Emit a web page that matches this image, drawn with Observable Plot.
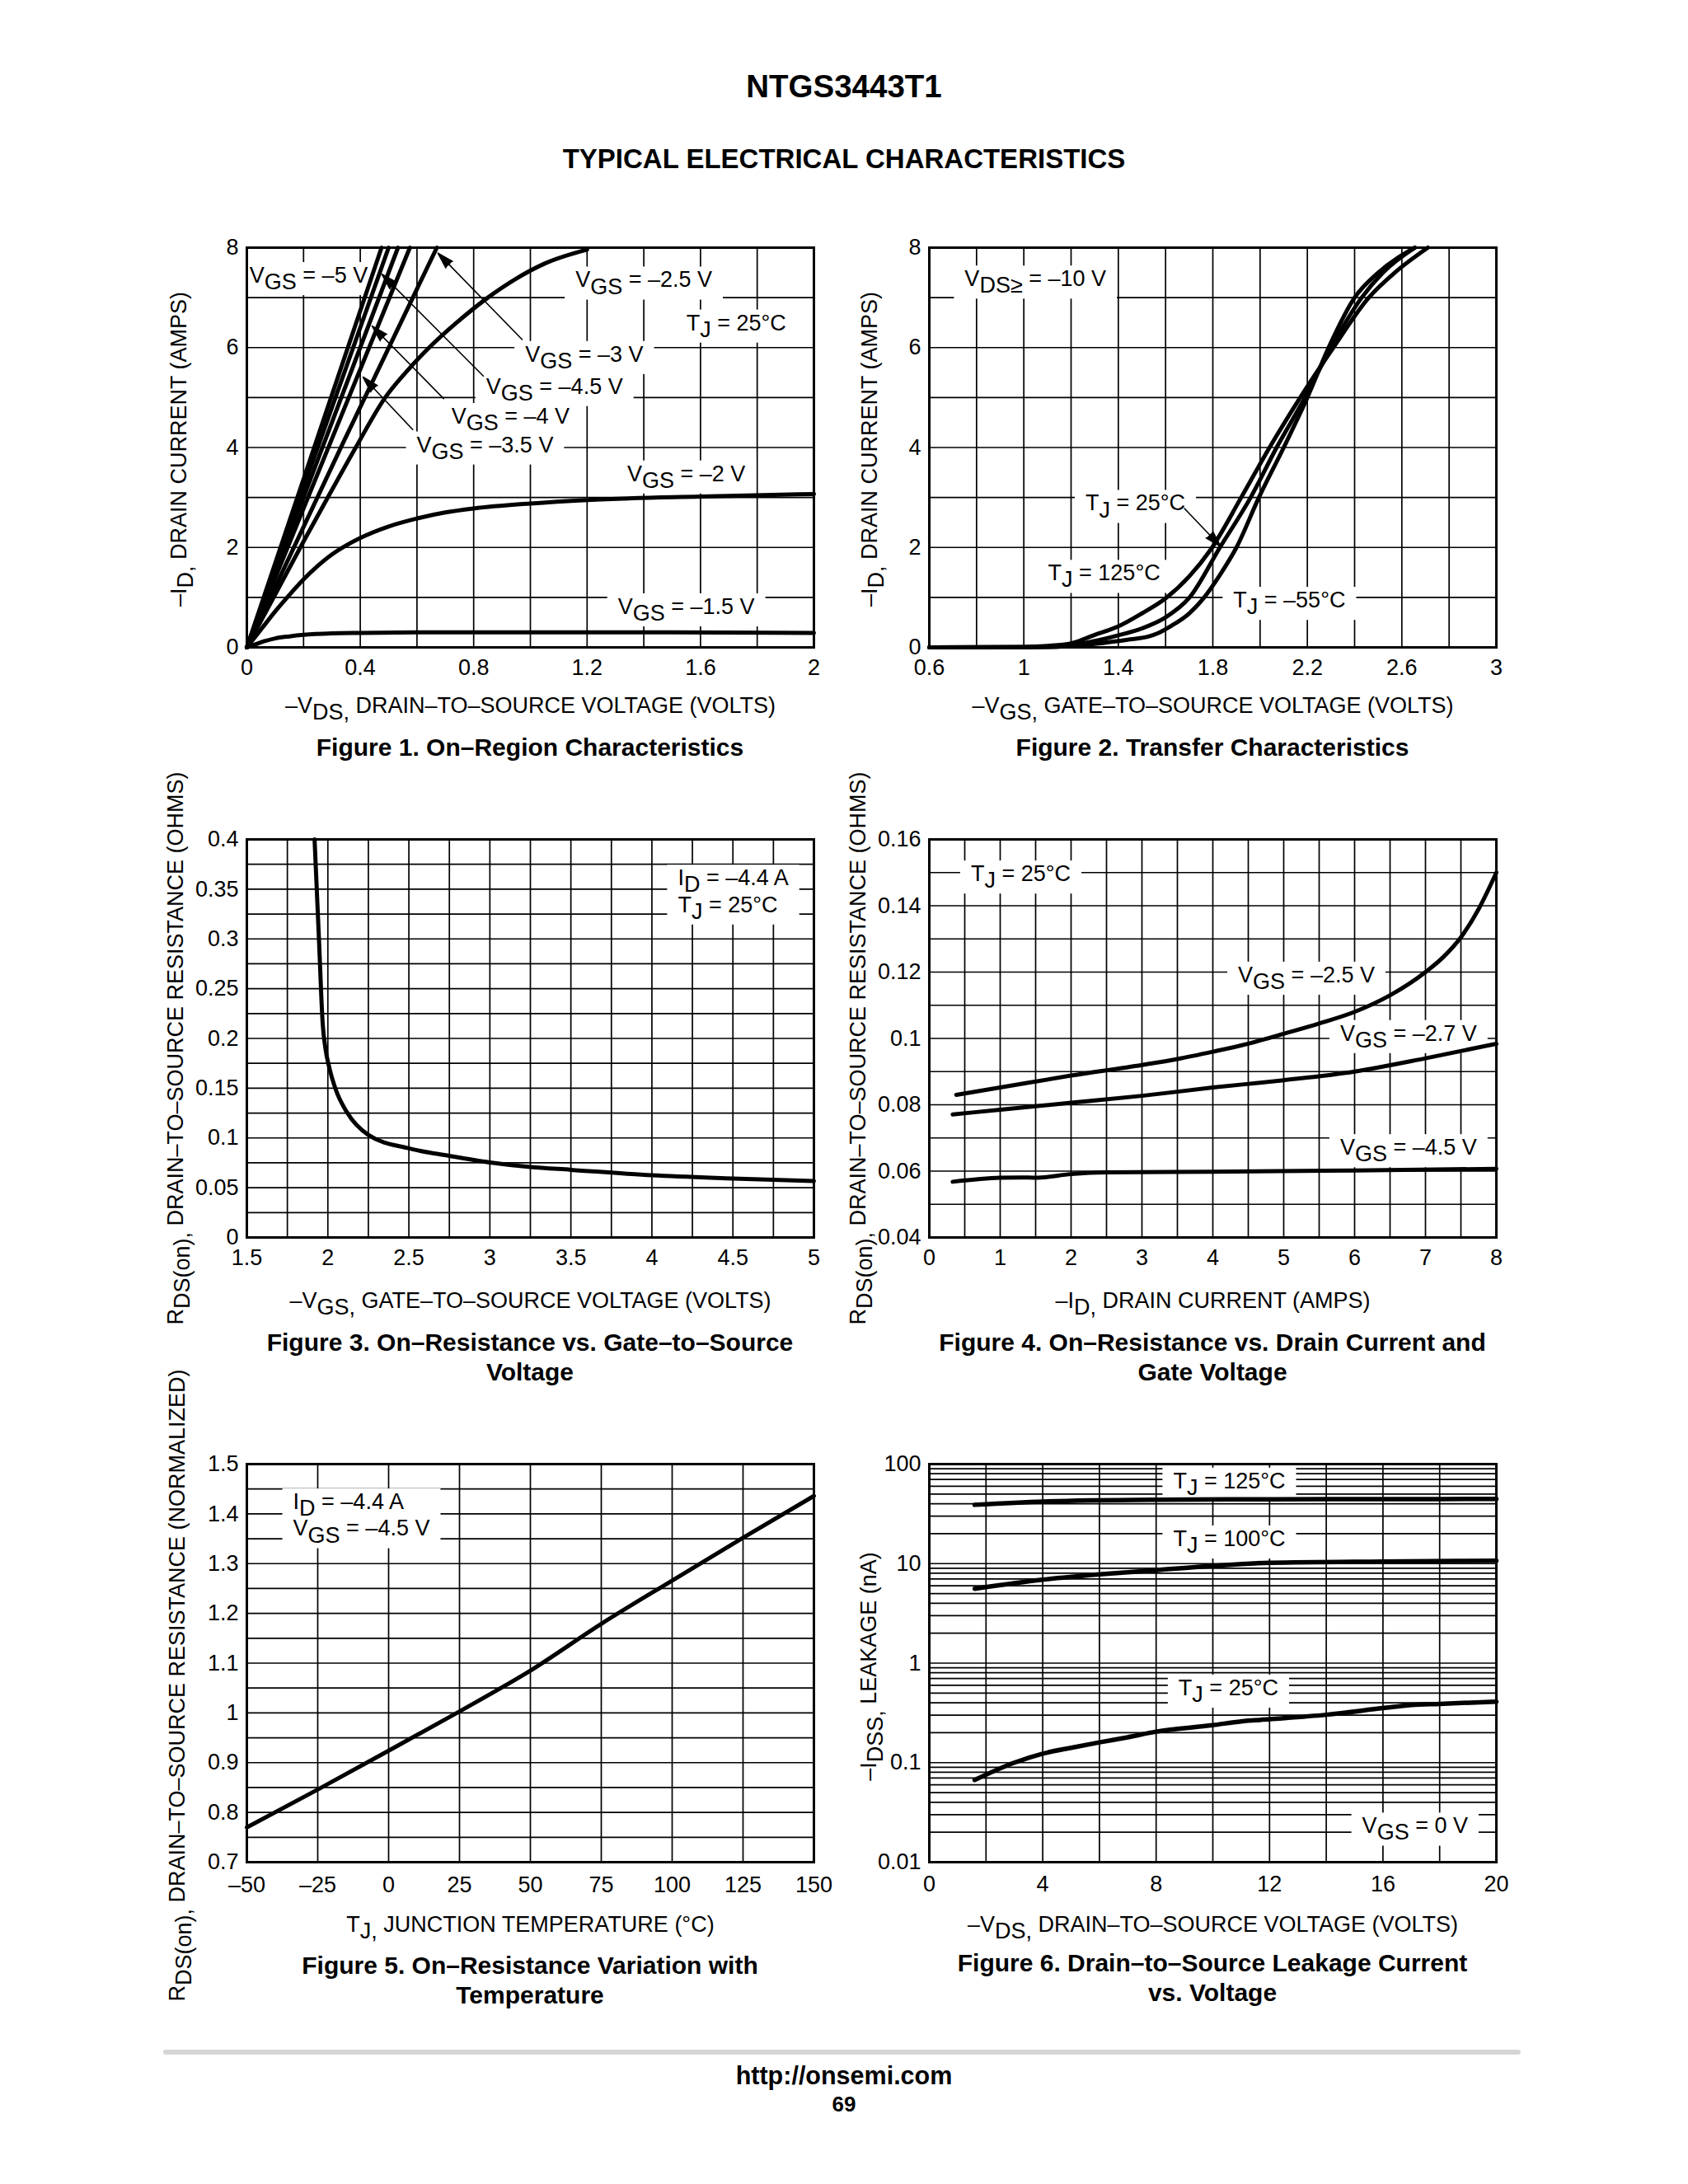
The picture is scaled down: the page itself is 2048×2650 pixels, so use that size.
<!DOCTYPE html>
<html>
<head>
<meta charset="utf-8">
<script src="https://cdn.jsdelivr.net/npm/d3@7"></script>
<script src="https://cdn.jsdelivr.net/npm/@observablehq/plot@0.6"></script>
<style>
  html, body { margin: 0; padding: 0; background: #fff; }
  #page { position: relative; width: 2048px; height: 2650px; overflow: hidden; background: #fff; color: #000;
          font-family: "Liberation Sans", Arial, Helvetica, sans-serif; }
  .abs { position: absolute; }
  .title { left: 0; width: 2048px; text-align: center; font-weight: bold; font-size: 38.5px; line-height: 46px; }
  .sub { left: 0; width: 2048px; text-align: center; font-weight: bold; font-size: 33px; line-height: 40px; }
  .cap { width: 800px; text-align: center; font-weight: bold; font-size: 30px; line-height: 36px; }
  .rule { left: 198px; width: 1647px; height: 6px; background: #d6d6d6; border-radius: 3px; }
</style>
</head>
<body>
<div id="page">
  <div class="abs title" style="top:82px">NTGS3443T1</div>
  <div class="abs sub" style="top:173px">TYPICAL ELECTRICAL CHARACTERISTICS</div>

  <div class="abs cap" style="left:243px;top:889px">Figure 1. On–Region Characteristics</div>
  <div class="abs cap" style="left:1071px;top:889px">Figure 2. Transfer Characteristics</div>
  <div class="abs cap" style="left:243px;top:1611px">Figure 3. On–Resistance vs. Gate–to–Source<br>Voltage</div>
  <div class="abs cap" style="left:1071px;top:1611px">Figure 4. On–Resistance vs. Drain Current and<br>Gate Voltage</div>
  <div class="abs cap" style="left:243px;top:2367px">Figure 5. On–Resistance Variation with<br>Temperature</div>
  <div class="abs cap" style="left:1071px;top:2364px">Figure 6. Drain–to–Source Leakage Current<br>vs. Voltage</div>

  <div class="abs rule" style="top:2487px"></div>
  <div class="abs" style="left:0;width:2048px;text-align:center;top:2500px;font-weight:bold;font-size:30.5px;line-height:36px">http://onsemi.com</div>
  <div class="abs" style="left:0;width:2048px;text-align:center;top:2538px;font-weight:bold;font-size:26px;line-height:30px">69</div>
</div>
<script>
// ---------------- Figure 1: On-region characteristics (-VDS V, -ID A) ----------------
const f1_vgs_5   = [[0,0],[0.475,8]];
const f1_vgs_4_5 = [[0,0],[0.5,8]];
const f1_vgs_4   = [[0,0],[0.533,8]];
const f1_vgs_3_5 = [[0,0],[0.575,8]];
const f1_vgs_3   = [[0,0],[0.34,4.1],[0.67,8]];
const f1_vgs_2_5 = [[0,0],[0.1,1.06],[0.2,2.12],[0.3,3.15],[0.384,4.0],[0.488,5.0],[0.56,5.5],[0.643,6.0],[0.74,6.5],[0.85,7.0],[0.95,7.38],[1.05,7.68],[1.2,7.96]];
const f1_vgs_2   = [[0,0],[0.05,0.36],[0.1,0.72],[0.15,1.05],[0.2,1.36],[0.25,1.63],[0.3,1.86],[0.35,2.04],[0.4,2.19],[0.5,2.42],[0.6,2.58],[0.7,2.70],[0.8,2.78],[1.0,2.88],[1.2,2.95],[1.6,3.02],[2.0,3.07]];
const f1_vgs_1_5 = [[0,0],[0.03,0.06],[0.06,0.12],[0.1,0.18],[0.15,0.22],[0.2,0.25],[0.3,0.28],[0.4,0.29],[0.6,0.3],[1.0,0.3],[1.5,0.3],[2.0,0.29]];
const f1_ticksX = [0,0.4,0.8,1.2,1.6,2];
const f1_ticksY = [0,2,4,6,8];
const f1_notes = [
  {t:"V_{GS} = –5 V", x:0.218, y:7.47}, {t:"V_{GS} = –2.5 V", x:1.40, y:7.38},
  {t:"T_{J} = 25°C", x:1.726, y:6.52}, {t:"V_{GS} = –3 V", x:1.19, y:5.89},
  {t:"V_{GS} = –4.5 V", x:1.085, y:5.25}, {t:"V_{GS} = –4 V", x:0.93, y:4.65},
  {t:"V_{GS} = –3.5 V", x:0.84, y:4.08}, {t:"V_{GS} = –2 V", x:1.55, y:3.50},
  {t:"V_{GS} = –1.5 V", x:1.55, y:0.84}
];
const f1_arrows = [
  {x1:0.971,y1:6.16,x2:0.674,y2:7.89}, {x1:0.834,y1:5.43,x2:0.476,y2:7.47},
  {x1:0.694,y1:4.98,x2:0.442,y2:6.43}, {x1:0.585,y1:4.36,x2:0.41,y2:5.41}
];

// ---------------- Figure 2: Transfer characteristics (-VGS V, -ID A) ----------------
const f2_tj125 = [[0.6,0],[1.0,0.01],[1.1,0.03],[1.2,0.08],[1.3,0.25],[1.4,0.42],[1.5,0.68],[1.6,0.98],[1.7,1.42],[1.79,1.95],[1.92,3.0],[2.04,4.0],[2.17,5.0],[2.31,6.0],[2.46,7.0],[2.57,7.5],[2.71,8.0]];
const f2_tj25  = [[0.6,0],[1.0,0.005],[1.2,0.05],[1.4,0.24],[1.5,0.38],[1.6,0.6],[1.7,0.99],[1.83,2.0],[1.96,3.0],[2.07,4.0],[2.19,5.0],[2.30,6.0],[2.43,7.0],[2.52,7.5],[2.655,8.0]];
const f2_tjm55 = [[0.6,0],[1.1,0.005],[1.3,0.07],[1.45,0.16],[1.53,0.22],[1.566,0.28],[1.62,0.42],[1.7,0.68],[1.76,0.98],[1.83,1.45],[1.9,2.0],[1.995,3.0],[2.10,4.0],[2.20,5.0],[2.29,6.0],[2.40,7.0],[2.50,7.5],[2.655,8.0]];
const f2_ticksX = [0.6,1,1.4,1.8,2.2,2.6,3];
const f2_ticksY = [0,2,4,6,8];
const f2_notes = [
  {t:"V_{DS≥} = –10 V", x:1.049, y:7.4}, {t:"T_{J} = 25°C", x:1.472, y:2.91},
  {t:"T_{J} = 125°C", x:1.34, y:1.51}, {t:"T_{J} = –55°C", x:2.124, y:0.97}
];
const f2_arrows = [{x1:1.68,y1:2.78,x2:1.833,y2:2.02}];

// ---------------- Figure 3: RDS(on) vs VGS ----------------
const f3_rds = [[1.918,0.4],[1.945,0.3],[1.968,0.215],[1.985,0.19],[2.01,0.17],[2.05,0.148],[2.117,0.126],[2.25,0.103],[2.5,0.0895],[2.75,0.082],[3.0,0.0754],[3.25,0.0708],[3.5,0.068],[4.0,0.0625],[4.5,0.0593],[5.0,0.0567]];
const f3_ticksX = [1.5,2,2.5,3,3.5,4,4.5,5];
const f3_ticksY = [0,0.05,0.1,0.15,0.2,0.25,0.3,0.35,0.4];
const f3_notes = [{t:"I_{D} = –4.4 A\nT_{J} = 25°C", x:4.16, y:0.349}];

// ---------------- Figure 4: RDS(on) vs ID ----------------
const f4_vgs_2_5 = [[0.38,0.083],[1,0.0852],[2,0.0888],[3,0.092],[3.5,0.0938],[4,0.096],[4.5,0.0984],[5,0.1014],[5.5,0.1045],[6,0.108],[6.5,0.113],[7,0.12],[7.25,0.1245],[7.5,0.1305],[7.75,0.139],[8,0.15]];
const f4_vgs_2_7 = [[0.33,0.0771],[1,0.0785],[2,0.0806],[3,0.0827],[4,0.0852],[5,0.0874],[6,0.09],[7,0.094],[8,0.0984]];
const f4_vgs_4_5 = [[0.33,0.0568],[1,0.058],[1.3,0.0581],[1.5,0.058],[2,0.0591],[2.5,0.0596],[4,0.0598],[6,0.0602],[8,0.0607]];
const f4_ticksX = [0,1,2,3,4,5,6,7,8];
const f4_ticksY = [0.04,0.06,0.08,0.1,0.12,0.14,0.16];
const f4_notes = [
  {t:"T_{J} = 25°C", x:1.29, y:0.150}, {t:"V_{GS} = –2.5 V", x:5.32, y:0.1195},
  {t:"V_{GS} = –2.7 V", x:6.76, y:0.1019}, {t:"V_{GS} = –4.5 V", x:6.76, y:0.0675}
];

// ---------------- Figure 5: RDS(on) normalized vs TJ ----------------
const f5_rds = [[-50,0.770],[-25,0.846],[0,0.924],[25,1.003],[50,1.085],[75,1.179],[100,1.266],[125,1.352],[150,1.436]];
const f5_ticksX = [-50,-25,0,25,50,75,100,125,150];
const f5_ticksY = [0.7,0.8,0.9,1,1.1,1.2,1.3,1.4,1.5];
const f5_notes = [{t:"I_{D} = –4.4 A\nV_{GS} = –4.5 V", x:-33.7, y:1.40}];

// ---------------- Figure 6: IDSS leakage vs VDS ----------------
const f6_tj125 = [[1.6,39],[4,42],[8,43.8],[12,44.3],[16,44.5],[20,44.6]];
const f6_tj100 = [[1.6,5.6],[4,6.9],[6,7.8],[8,8.6],[10,9.5],[12,10.2],[16,10.5],[20,10.7]];
const f6_tj25  = [[1.6,0.067],[3,0.1],[4,0.123],[5,0.141],[6,0.16],[7,0.18],[8,0.205],[10,0.238],[11,0.26],[12,0.273],[14,0.303],[16,0.353],[17,0.38],[18,0.39],[20,0.41]];
const f6_ticksX = [0,4,8,12,16,20];
const f6_ticksY = [0.01,0.1,1,10,100];
const f6_notes = [
  {t:"T_{J} = 125°C", x:10.58, y:69.7}, {t:"T_{J} = 100°C", x:10.58, y:18.3},
  {t:"T_{J} = 25°C", x:10.55, y:0.58}, {t:"V_{GS} = 0 V", x:17.13, y:0.0238}
];

// ---------------- helpers ----------------
const NS = "http://www.w3.org/2000/svg";
const page = document.getElementById("page");
const ML = 130, MR = 40, MT = 20, MB = 110;
const fmt = d => d < 0 ? "–" + (-d) : String(d);
const rows = (arr, s) => arr.map(([x, y]) => ({x, y, s}));
const step = (a, b, s) => d3.range(0, Math.round((b - a) / s) + 1).map(i => +(a + i * s).toFixed(6));
const logGrid = [0.01,0.1,1,10].flatMap(d => d3.range(1, 10).map(k => +(d * k).toPrecision(3))).concat([100]);

function subs(svg) {
  svg.querySelectorAll("text, tspan").forEach(el => {
    Array.from(el.childNodes).forEach(n => {
      if (n.nodeType !== 3 || !n.nodeValue.includes("_{")) return;
      const parts = n.nodeValue.split(/_\{([^}]*)\}/);
      const frag = document.createDocumentFragment();
      parts.forEach((p, i) => {
        if (i === 0) { if (p) frag.appendChild(document.createTextNode(p)); return; }
        const t = document.createElementNS(NS, "tspan");
        if (i % 2 === 1) { t.setAttribute("dy", "0.3em"); t.textContent = p; }
        else { t.setAttribute("dy", "-0.3em"); t.textContent = p || "\u200b"; }
        frag.appendChild(t);
      });
      el.replaceChild(frag, n);
    });
  });
}

function boxes(svg, padX = 13, padY = 1) {
  const texts = svg.querySelectorAll('text[aria-label="boxed"], g[aria-label="boxed"] text, g.boxed text');
  if (!texts.length) return;
  const g = document.createElementNS(NS, "g");
  const firstLine = svg.querySelector('g[aria-label="line"]');
  svg.insertBefore(g, firstLine);
  const inv = svg.getScreenCTM().inverse();
  texts.forEach(t => {
    const b = t.getBBox();
    const m = inv.multiply(t.getScreenCTM());
    const pts = [[b.x, b.y], [b.x + b.width, b.y], [b.x, b.y + b.height], [b.x + b.width, b.y + b.height]].map(([x, y]) => {
      const p = svg.createSVGPoint(); p.x = x; p.y = y; return p.matrixTransform(m);
    });
    const x0 = Math.min(...pts.map(p => p.x)), x1 = Math.max(...pts.map(p => p.x));
    const y0 = Math.min(...pts.map(p => p.y)), y1 = Math.max(...pts.map(p => p.y));
    const r = document.createElementNS(NS, "rect");
    r.setAttribute("x", x0 - padX); r.setAttribute("y", y0 - padY);
    r.setAttribute("width", x1 - x0 + 2 * padX); r.setAttribute("height", y1 - y0 + 2 * padY);
    r.setAttribute("fill", "#fff");
    g.appendChild(r);
  });
}

// fill the arrowheads (the head sub-path closes into a triangle when filled)
function fillHeads(svg) {
  svg.querySelectorAll('g[aria-label="arrow"] path').forEach(p => {
    p.setAttribute("fill", "#000");
    p.setAttribute("stroke-linejoin", "miter");
  });
}

function figure(cfg) {
  const W = cfg.R - cfg.L, H = cfg.B - cfg.T;
  const notes = (cfg.notes || []).map(n => Plot.text(n.data, {
    x: "x", y: "y", text: "t", textAnchor: n.anchor || "middle", lineAnchor: "middle",
    lineHeight: 1.2, fill: "#000", ariaLabel: "boxed", className: "boxed"
  }));
  const marks = [
    Plot.gridX(cfg.gridX, {stroke: "#000", strokeOpacity: 1, strokeWidth: 1.7}),
    Plot.gridY(cfg.gridY, {stroke: "#000", strokeOpacity: 1, strokeWidth: 1.7}),
    Plot.line(cfg.lines, {x: "x", y: "y", z: "s", stroke: "#000", strokeWidth: cfg.lw || 5, curve: "monotone-x"}),
    ...(cfg.arrows ? [Plot.arrow(cfg.arrows, {x1: "x1", y1: "y1", x2: "x2", y2: "y2", stroke: "#000", strokeWidth: 1.6, headLength: 19, headAngle: 32})] : []),
    ...notes,
    Plot.frame({stroke: "#000", strokeWidth: 3}),
    Plot.axisX(cfg.ticksX, {tickSize: 0, tickPadding: cfg.tp || 14, tickFormat: fmt, label: null}),
    Plot.axisY(cfg.ticksY, {tickSize: 0, tickPadding: 10, tickFormat: fmt, label: null}),
    Plot.text([cfg.xLabel], {frameAnchor: "bottom", dy: cfg.xDy, textAnchor: "middle", lineAnchor: "middle", text: d => d, fill: "#000"}),
    Plot.text([cfg.yLabel], {frameAnchor: "left", dx: cfg.yDx, dy: cfg.yDy || 0, rotate: -90, textAnchor: "middle", lineAnchor: "middle", text: d => d, fill: "#000"})
  ];
  const svg = Plot.plot({
    width: W + ML + MR, height: H + MT + MB,
    marginLeft: ML, marginRight: MR, marginTop: MT, marginBottom: MB,
    x: {...cfg.x, label: null}, y: {...cfg.y, label: null},
    style: {fontFamily: '"Liberation Sans", Arial, Helvetica, sans-serif', fontSize: "27px", color: "#000", background: "transparent", overflow: "visible"},
    marks
  });
  const div = document.createElement("div");
  div.style.cssText = `position:absolute;left:${cfg.L - ML}px;top:${cfg.T - MT}px;`;
  div.appendChild(svg);
  page.appendChild(div);
  subs(svg);
  boxes(svg);
  fillHeads(svg);
}

const LEFT = {L: 299, R: 987}, RIGHT = {L: 1127, R: 1815};
const ROW1 = {T: 300, B: 785}, ROW2 = {T: 1018, B: 1501}, ROW3 = {T: 1776, B: 2259};

figure({...LEFT, ...ROW1,
  x: {domain: [0, 2]}, y: {domain: [0, 8]},
  gridX: step(0, 2, 0.2), gridY: step(0, 8, 1), ticksX: f1_ticksX, ticksY: f1_ticksY,
  lines: [...rows(f1_vgs_5, "-5"), ...rows(f1_vgs_4_5, "-4.5"), ...rows(f1_vgs_4, "-4"), ...rows(f1_vgs_3_5, "-3.5"),
          ...rows(f1_vgs_3, "-3"), ...rows(f1_vgs_2_5, "-2.5"), ...rows(f1_vgs_2, "-2"), ...rows(f1_vgs_1_5, "-1.5")],
  arrows: f1_arrows, notes: [{data: f1_notes}],
  xLabel: "–V_{DS,} DRAIN–TO–SOURCE VOLTAGE (VOLTS)", xDy: 71,
  yLabel: "–I_{D,} DRAIN CURRENT (AMPS)", yDx: -82, yDy: 2
});

figure({...RIGHT, ...ROW1,
  x: {domain: [0.6, 3]}, y: {domain: [0, 8]},
  gridX: step(0.6, 3, 0.2), gridY: step(0, 8, 1), ticksX: f2_ticksX, ticksY: f2_ticksY,
  lines: [...rows(f2_tj125, "125"), ...rows(f2_tj25, "25"), ...rows(f2_tjm55, "-55")],
  arrows: f2_arrows, notes: [{data: f2_notes}],
  xLabel: "–V_{GS,} GATE–TO–SOURCE VOLTAGE (VOLTS)", xDy: 71,
  yLabel: "–I_{D,} DRAIN CURRENT (AMPS)", yDx: -72, yDy: 2
});

figure({...LEFT, ...ROW2,
  x: {domain: [1.5, 5]}, y: {domain: [0, 0.4]},
  gridX: step(1.5, 5, 0.25), gridY: step(0, 0.4, 0.025), ticksX: f3_ticksX, ticksY: f3_ticksY,
  lines: rows(f3_rds, "rds"), notes: [{data: f3_notes, anchor: "start"}],
  xLabel: "–V_{GS,} GATE–TO–SOURCE VOLTAGE (VOLTS)", xDy: 77,
  yLabel: "R_{DS(on),} DRAIN–TO–SOURCE RESISTANCE (OHMS)", yDx: -86, yDy: 12
});

figure({...RIGHT, ...ROW2,
  x: {domain: [0, 8]}, y: {domain: [0.04, 0.16]},
  gridX: step(0, 8, 0.5), gridY: step(0.04, 0.16, 0.01), ticksX: f4_ticksX, ticksY: f4_ticksY,
  lines: [...rows(f4_vgs_2_5, "-2.5"), ...rows(f4_vgs_2_7, "-2.7"), ...rows(f4_vgs_4_5, "-4.5")],
  notes: [{data: f4_notes}],
  xLabel: "–I_{D,} DRAIN CURRENT (AMPS)", xDy: 77,
  yLabel: "R_{DS(on),} DRAIN–TO–SOURCE RESISTANCE (OHMS)", yDx: -86, yDy: 12
});

figure({...LEFT, ...ROW3,
  x: {domain: [-50, 150]}, y: {domain: [0.7, 1.5]}, tp: 17,
  gridX: step(-50, 150, 25), gridY: step(0.7, 1.5, 0.05), ticksX: f5_ticksX, ticksY: f5_ticksY,
  lines: rows(f5_rds, "rds"), notes: [{data: f5_notes, anchor: "start"}],
  xLabel: "T_{J,} JUNCTION TEMPERATURE (°C)", xDy: 76,
  yLabel: "R_{DS(on),} DRAIN–TO–SOURCE RESISTANCE (NORMALIZED)", yDx: -84, yDy: 27
});

figure({...RIGHT, ...ROW3,
  x: {domain: [0, 20]}, y: {type: "log", domain: [0.01, 100]}, tp: 16,
  gridX: step(0, 20, 2), gridY: logGrid, ticksX: f6_ticksX, ticksY: f6_ticksY, lw: 5.5,
  lines: [...rows(f6_tj125, "125"), ...rows(f6_tj100, "100"), ...rows(f6_tj25, "25")],
  notes: [{data: f6_notes}],
  xLabel: "–V_{DS,} DRAIN–TO–SOURCE VOLTAGE (VOLTS)", xDy: 76,
  yLabel: "–I_{DSS,} LEAKAGE (nA)", yDx: -73, yDy: 4
});
</script>
</body>
</html>
